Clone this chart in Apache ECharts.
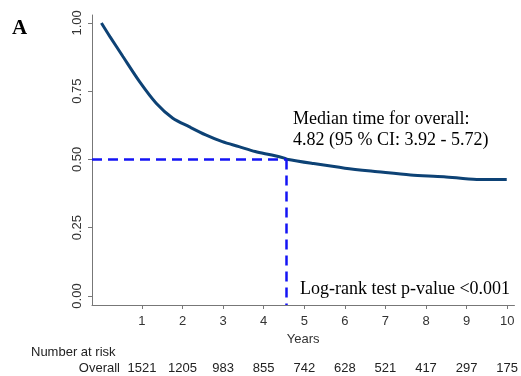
<!DOCTYPE html>
<html>
<head>
<meta charset="utf-8">
<script src="https://cdn.jsdelivr.net/npm/echarts@6/dist/echarts.min.js"></script>
<style>
html,body{margin:0;padding:0;background:#fff;}
#chart{width:521px;height:376px;}
</style>
</head>
<body>
<div id="chart"></div>
<script>
// Kaplan-Meier survival curve
const timeYears = [0, 0.21, 0.53, 0.94, 1.35, 1.76, 2.16, 2.57, 2.98, 3.39, 3.79, 4.20, 4.53, 4.57, 5.18, 6.00, 6.81, 7.62, 8.44, 9.25, 9.99];
const survival  = [1.000, 0.950, 0.877, 0.785, 0.706, 0.651, 0.620, 0.590, 0.565, 0.547, 0.529, 0.516, 0.504, 0.501, 0.486, 0.468, 0.455, 0.443, 0.437, 0.427, 0.427];
const yTicks = [0, 0.25, 0.5, 0.75, 1];
const yTickLabels = ['0.00', '0.25', '0.50', '0.75', '1.00'];
const xTicks = [1, 2, 3, 4, 5, 6, 7, 8, 9, 10];
const riskAt = [1521, 1205, 983, 855, 742, 628, 521, 417, 297, 175];
const medianLineX = [4.56];
const medianLineY = [0.5];

const X_MIN = -0.232, X_MAX = 10.18, Y_MIN = -0.033, Y_MAX = 1.029;

const chart = echarts.init(document.getElementById('chart'), null, {renderer: 'canvas'});
const sans = 'Liberation Sans, Arial, sans-serif';
const serif = 'Liberation Serif, Times New Roman, serif';

const option = {
  animation: false,
  backgroundColor: '#fff',
  grid: {left: 92, top: 15, width: 426, height: 290, containLabel: false},
  xAxis: [{
    type: 'value', min: X_MIN, max: X_MAX,
    name: 'Years', nameLocation: 'middle', nameGap: 20,
    nameTextStyle: {fontFamily: sans, fontSize: 13, color: '#333'},
    axisLine: {show: true, onZero: false, lineStyle: {color: '#777', width: 1}},
    axisTick: {show: true, length: 4, customValues: xTicks, lineStyle: {color: '#777'}},
    axisLabel: {show: true, customValues: xTicks, fontFamily: sans, fontSize: 13, color: '#333', margin: 10,
      formatter: v => String(v)},
    splitLine: {show: false}
  }, {
    type: 'value', min: X_MIN, max: X_MAX, position: 'bottom', offset: 57,
    axisLine: {show: false}, axisTick: {show: false}, splitLine: {show: false},
    axisLabel: {show: true, customValues: xTicks, fontFamily: sans, fontSize: 13, color: '#222', margin: 0,
      formatter: v => String(riskAt[xTicks.indexOf(Math.round(v))])}
  }],
  yAxis: {
    type: 'value', min: Y_MIN, max: Y_MAX,
    axisLine: {show: true, onZero: false, lineStyle: {color: '#777', width: 1}},
    axisTick: {show: true, length: 4, customValues: yTicks, lineStyle: {color: '#777'}},
    axisLabel: {show: true, customValues: yTicks, rotate: 90, fontFamily: sans, fontSize: 13, color: '#333', margin: 8,
      formatter: v => yTickLabels[yTicks.indexOf(v)]},
    splitLine: {show: false}
  },
  series: [{
    type: 'line',
    data: timeYears.map((t, i) => [t, survival[i]]),
    showSymbol: false, symbol: 'none', smooth: 0.3,
    lineStyle: {color: '#0d4275', width: 3},
    z: 3,
    markLine: {
      silent: true, symbol: 'none',
      lineStyle: {color: '#1414f5', width: 2.5, type: [10, 6]},
      label: {show: false},
      data: [
        [{coord: [X_MIN, medianLineY[0]]}, {coord: [medianLineX[0], medianLineY[0]]}],
        [{coord: [medianLineX[0], medianLineY[0]]}, {coord: [medianLineX[0], Y_MIN]}]
      ]
    }
  }],
  graphic: [
    {type: 'text', left: 12, top: 18, style: {text: 'A', font: 'bold 21px ' + serif, fill: '#000'}},
    {type: 'text', left: 293, top: 110, style: {text: 'Median time for overall:', font: '18px ' + serif, fill: '#000'}},
    {type: 'text', left: 293, top: 131, style: {text: '4.82 (95 % CI: 3.92 - 5.72)', font: '18px ' + serif, fill: '#000'}},
    {type: 'text', left: 300, top: 280, style: {text: 'Log-rank test p-value <0.001', font: '18px ' + serif, fill: '#000'}},
    {type: 'text', left: 31, top: 346, style: {text: 'Number at risk', font: '13px ' + sans, fill: '#222'}},
    {type: 'text', right: 401, top: 362, style: {text: 'Overall', font: '13px ' + sans, fill: '#222', textAlign: 'right'}}
  ]
};
chart.setOption(option);
</script>
</body>
</html>
